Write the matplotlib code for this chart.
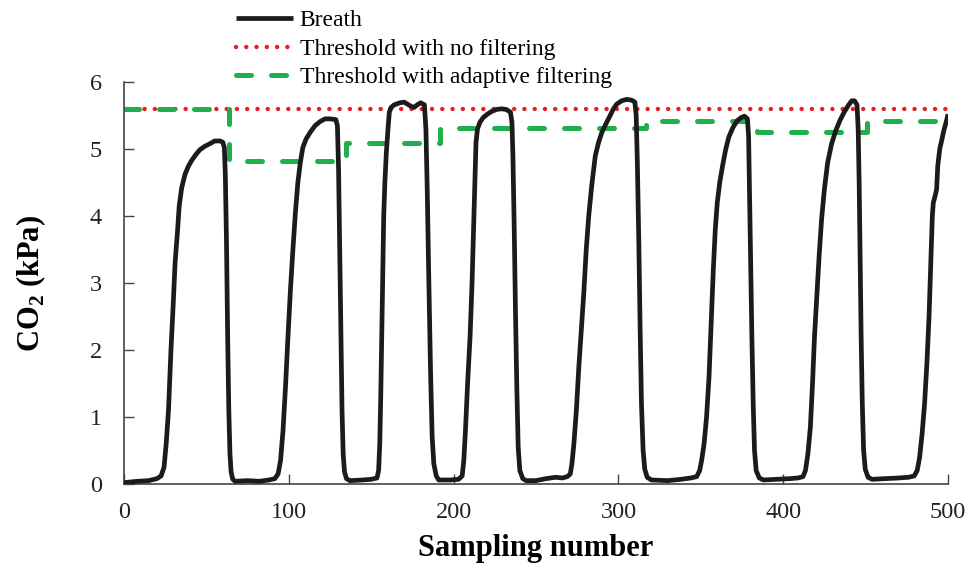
import matplotlib.pyplot as plt

plt.rcParams['font.family'] = ['Liberation Serif', 'DejaVu Serif']
plt.rcParams['mathtext.fontset'] = 'custom'
plt.rcParams['mathtext.rm'] = 'Liberation Serif'
plt.rcParams['mathtext.bf'] = 'Liberation Serif:bold'

# CO2 trace of eight breaths (sample index, kPa)
breath_x = [0, 8, 15, 20, 22.5, 24.3, 25.6, 27, 28.5, 29.9, 31, 32.4, 33.5, 35, 37, 39, 41.1,
            44, 46.1, 49, 52.2, 55, 58.3, 60, 60.9, 61.5, 62.2, 62.9, 63.6, 64.3, 65, 66, 67.5,
            75, 82, 88, 91.5, 93.5, 95, 96.5, 98, 99.5, 101, 102.5, 104, 105.5, 107, 108.5,
            110.5, 113, 116, 119, 122, 125, 128.5, 129.5, 130.2, 130.9, 131.6, 132.3, 133,
            133.8, 135, 137,
            145, 150, 153.5, 154.5, 155.2, 155.8, 156.4, 157, 157.6, 158.3, 159.2, 160.2, 161,
            162, 164, 167.5, 170, 172, 174, 176, 178, 180, 182.3, 183.2, 184, 185, 186, 187,
            188, 189.5, 191,
            198, 203, 205.2, 206.2, 207.2, 208.5, 210, 211.2, 212.2, 213, 213.6, 214.5, 216,
            218, 220.5, 223, 226, 229, 232, 234.5, 235.4, 236, 236.8, 237.6, 238.4, 239.2,
            240.2, 242, 244,
            250, 256, 262, 266, 269, 270.8, 271.8, 273, 274.5, 276, 277.5, 279, 280.5, 282,
            283.8, 286, 288, 290, 292.5, 295, 297, 299, 302, 305, 308, 310, 310.8, 311.5,
            312.4, 313.2, 314, 315, 316, 317.5, 320,
            330, 338, 344, 347.5, 349.3, 350.5, 352, 353.5, 355, 356.3, 357.6, 358.8, 360,
            361.5, 363, 365, 367, 369.5, 372, 374.5, 376.5, 378.3, 379, 379.6, 380.3, 381,
            381.8, 382.6, 383.6, 385.5, 388,
            396, 404, 409, 412, 413.5, 415, 416.5, 417.8, 419, 420.3, 421.8, 423.3, 425, 427,
            429.4, 432, 434.5, 437, 439.5, 441.6, 443.3, 444.8, 445.5, 446.1, 446.7, 447.3,
            448, 448.8, 449.8, 451.5, 454,
            462, 470, 476, 479.5, 481.3, 482.8, 484.3, 485.8, 487.2, 488.5, 489.6, 490.5,
            491.1, 492.2, 493.1, 493.8, 495, 496.2, 497.5, 499.2, 500]
breath_y = [0.02, 0.04, 0.05, 0.08, 0.12, 0.25, 0.6, 1.1, 2.0, 2.7, 3.3, 3.75, 4.15, 4.42, 4.62, 4.74, 4.83,
            4.93, 4.99, 5.04, 5.08, 5.12, 5.12, 5.10, 5.02, 4.6, 3.6, 2.2, 1.1, 0.45, 0.18, 0.07, 0.04,
            0.05, 0.04, 0.06, 0.08, 0.15, 0.35, 0.8, 1.45, 2.2, 2.9, 3.5, 4.05, 4.5, 4.8, 5.02,
            5.15, 5.25, 5.35, 5.41, 5.45, 5.45, 5.44, 5.35, 4.7, 3.5, 2.2, 1.1, 0.45,
            0.18, 0.08, 0.05,
            0.06, 0.07, 0.09, 0.2, 0.6, 1.3, 2.2, 3.2, 4.0, 4.5, 4.95, 5.3, 5.55,
            5.62, 5.66, 5.69, 5.70, 5.67, 5.64, 5.62, 5.66, 5.69, 5.66, 5.3, 4.4, 3.0, 1.7, 0.7,
            0.3, 0.12, 0.06,
            0.06, 0.07, 0.12, 0.35, 0.8, 1.5, 2.2, 3.0, 3.9, 4.6, 5.1, 5.3, 5.4,
            5.47, 5.52, 5.56, 5.59, 5.6, 5.59, 5.55, 5.4, 4.9, 3.8, 2.5, 1.4, 0.55,
            0.2, 0.08, 0.05,
            0.05, 0.08, 0.10, 0.09, 0.11, 0.15, 0.3, 0.6, 1.1, 1.75, 2.3, 2.85, 3.5, 4.0,
            4.45, 4.9, 5.1, 5.25, 5.38, 5.5, 5.6, 5.67, 5.72, 5.74, 5.73, 5.70, 5.5, 4.8,
            3.6, 2.3, 1.2, 0.5, 0.22, 0.1, 0.06,
            0.05, 0.07, 0.09, 0.11, 0.2, 0.35, 0.6, 1.0, 1.6, 2.4, 3.2, 3.8, 4.2,
            4.5, 4.72, 4.98, 5.18, 5.32, 5.42, 5.47, 5.49, 5.45, 5.2, 4.3, 3.2, 2.2,
            1.2, 0.5, 0.2, 0.09, 0.06,
            0.07, 0.08, 0.09, 0.11, 0.2, 0.45, 0.85, 1.5, 2.2, 2.75, 3.4, 3.95, 4.4, 4.8,
            5.08, 5.28, 5.43, 5.55, 5.65, 5.72, 5.72, 5.66, 5.3, 4.5, 3.3, 2.2,
            1.2, 0.5, 0.22, 0.1, 0.07,
            0.08, 0.09, 0.1, 0.12, 0.2, 0.4, 0.75, 1.2, 1.8, 2.5, 3.3, 4.0,
            4.2, 4.3, 4.4, 4.75, 5.0, 5.13, 5.28, 5.43, 5.52]

# fixed threshold (no filtering)
fixed_x = [0, 500]
fixed_y = [5.6, 5.6]

# adaptive threshold, updated after each breath
adaptive_x = [0, 64, 135, 192, 317, 384, 451, 500]
adaptive_y = [5.6, 4.82, 5.09, 5.31, 5.42, 5.25, 5.42, 5.42]

fig = plt.figure(figsize=(9.71, 5.68), dpi=100)
ax = fig.add_axes([0.1277, 0.1479, 0.8486, 0.7077])

ax.plot(breath_x, breath_y, color='#1c1a1a', linewidth=3.4, label='Breath',
        solid_joinstyle='round', solid_capstyle='butt', zorder=3)
ax.plot(fixed_x, fixed_y, color='#ec1c24', linewidth=3.2, linestyle=(0, (0.01, 2.3)),
        dash_capstyle='round', label='Threshold with no filtering', zorder=2)
ax.plot(adaptive_x, adaptive_y, color='#1fb04b', linewidth=3.6, linestyle=(0, (3, 4)),
        dash_capstyle='round', drawstyle='steps-post',
        label='Threshold with adaptive filtering', zorder=2)

ax.set_xlim(0, 500)
ax.set_ylim(0, 6)
ax.set_xticks([0, 100, 200, 300, 400, 500])
ax.set_yticks([0, 1, 2, 3, 4, 5, 6])
ax.tick_params(direction='in', length=7, width=1, color='#444444', labelsize=17.5,
               labelcolor='#222222')
ax.tick_params(axis='x', pad=13)
ax.tick_params(axis='y', pad=16)
for side in ['top', 'right']:
    ax.spines[side].set_visible(False)
for side in ['left', 'bottom']:
    ax.spines[side].set_color('#444444')
    ax.spines[side].set_linewidth(1.2)

ax.set_xlabel('Sampling number', fontsize=22, fontweight='bold', labelpad=8)
ax.set_ylabel(r'CO$_\mathbf{2}$ (kPa)', fontsize=22, fontweight='bold', labelpad=30)

fig.legend(loc='upper left', bbox_to_anchor=(0.226, 1.012), frameon=False,
           fontsize=17, handlelength=2.4, handletextpad=0.3, labelspacing=0.3,
           borderpad=0.2)

fig.savefig('out.png', dpi=100)
